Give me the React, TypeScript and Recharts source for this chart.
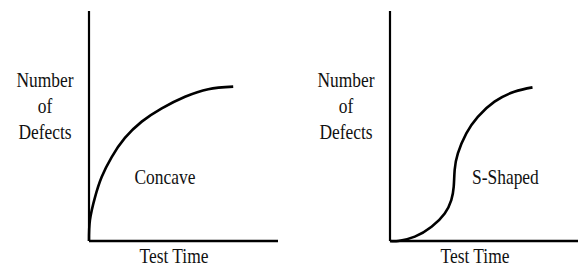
import { LineChart, Line, XAxis, YAxis, Label, ReferenceDot } from 'recharts'

// test time (0-100 of the axis length) and number of defects (0-100 of the axis height)
const concaveTime = [0, 0.5, 3.2, 6.7, 12.0, 19.0, 27.9, 38.5, 50.8, 63.1, 76.3]
const concaveDefects = [0, 9.1, 19.1, 27.8, 36.5, 44.8, 51.9, 57.7, 62.7, 66.0, 67.1]

const sShapedTime = [0, 4.4, 13.2, 22.1, 29.1, 32.6, 33.9, 34.4, 36.1, 40.6, 46.7, 55.6, 66.1, 75.8]
const sShapedDefects = [0, 0, 1.9, 6.2, 12.0, 17.8, 23.6, 30.9, 38.1, 46.8, 54.0, 60.6, 64.9, 66.8]

const yTitleLines = ['Number', 'of', 'Defects']
const xTitle = 'Test Time'

const toRows = (t: number[], d: number[]) => t.map((time, i) => ({ time, defects: d[i] }))

const FONT = '"Liberation Serif", "Times New Roman", serif'

function SerifText({ x, y, children }: { x: number; y: number; children: string }) {
  return (
    <text
      transform={`translate(${x},${y}) scale(0.83,1)`}
      textAnchor="middle"
      fontFamily={FONT}
      fontSize={21}
      fill="#111"
    >
      {children}
    </text>
  )
}

interface PanelProps {
  name: string
  data: { time: number; defects: number }[]
  nameAt: number
  left: number
  width: number
  marginLeft: number
  marginRight: number
}

function Panel({ name, data, nameAt, left, width, marginLeft, marginRight }: PanelProps) {
  return (
    <div style={{ position: 'absolute', left, top: 0 }}>
      <LineChart
        width={width}
        height={268}
        data={data}
        margin={{ top: 11, right: marginRight, bottom: 26, left: marginLeft - 1 }}
      >
        <XAxis
          dataKey="time"
          type="number"
          domain={[0, 100]}
          height={1}
          tick={false}
          tickLine={false}
          axisLine={{ stroke: '#000', strokeWidth: 2.5 }}
        >
          <Label
            content={(props: any) => {
              const vb = props.viewBox || {}
              return <SerifText x={vb.x + 85} y={vb.y + 22}>{xTitle}</SerifText>
            }}
          />
        </XAxis>
        <YAxis
          type="number"
          domain={[0, 100]}
          width={1}
          tick={false}
          tickLine={false}
          axisLine={{ stroke: '#000', strokeWidth: 2.2 }}
        >
          <Label
            content={(props: any) => {
              const vb = props.viewBox || {}
              return (
                <g>
                  {yTitleLines.map((line, i) => (
                    <SerifText key={line} x={vb.x + vb.width - 44} y={vb.y + 75.7 + i * 26}>{line}</SerifText>
                  ))}
                </g>
              )
            }}
          />
        </YAxis>
        <ReferenceDot
          x={nameAt}
          y={25}
          r={0}
          fill="none"
          stroke="none"
          ifOverflow="visible"
          label={{
            content: (props: any) => {
              const vb = props.viewBox || {}
              return <SerifText x={vb.x} y={vb.y}>{name}</SerifText>
            },
          }}
        />
        <Line
          type="natural"
          dataKey="defects"
          stroke="#000"
          strokeWidth={2.6}
          dot={false}
          isAnimationActive={false}
        />
      </LineChart>
    </div>
  )
}

export default function App() {
  return (
    <div style={{ position: 'absolute', left: 0, top: 0, width: 578, height: 268, background: '#fff' }}>
      <Panel
        name="Concave"
        data={toRows(concaveTime, concaveDefects)}
        nameAt={40.2}
        left={0}
        width={289}
        marginLeft={89}
        marginRight={11}
      />
      <Panel
        name="S-Shaped"
        data={toRows(sShapedTime, sShapedDefects)}
        nameAt={61.4}
        left={289}
        width={289}
        marginLeft={101}
        marginRight={0}
      />
    </div>
  )
}
